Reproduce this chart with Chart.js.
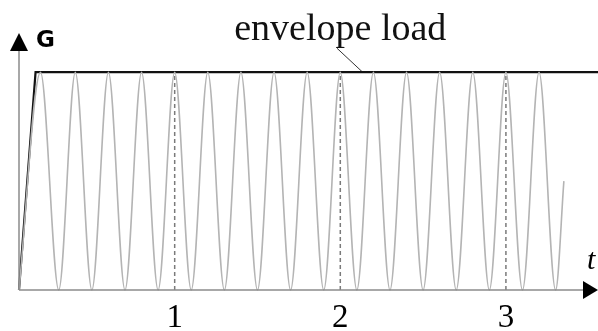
<!DOCTYPE html>
<html>
<head>
<meta charset="utf-8">
<script src="https://cdn.jsdelivr.net/npm/chart.js@4"></script>
<style>
    html, body { margin: 0; padding: 0; background: #fff; }
    #wrap { width: 598px; height: 331px; }
</style>
</head>
<body>
<div id="wrap"><canvas id="loadChart" width="598" height="331"></canvas></div>
<script>
// envelope: ramp from the origin, then flat
const envTimes = [0.06, 0.16, 3.56];
const envValues = [0, 1, 1];

// oscillating load G(t): starts at 0, peaks and troughs every 0.1
const gTimes = [0.06, 0.19, 0.3, 0.4, 0.5, 0.6, 0.7, 0.8, 0.9, 1.0, 1.1, 1.2,
    1.3, 1.4, 1.5, 1.6, 1.7, 1.8, 1.9, 2.0, 2.1, 2.2, 2.3, 2.4, 2.5, 2.6,
    2.7, 2.8, 2.9, 3.0, 3.1, 3.2, 3.3, 3.35];
const gValues = [0, 1, 0, 1, 0, 1, 0, 1, 0, 1, 0, 1,
    0, 1, 0, 1, 0, 1, 0, 1, 0, 1, 0, 1, 0, 1,
    0, 1, 0, 1, 0, 1, 0, 0.5];

// marked instants on the time axis
const tickValues = [1, 2, 3];
const tickLabels = ["1", "2", "3"];

// label and its leader line onto the envelope
const calloutText = "envelope load";
const calloutTimes = [1.98, 2.135];
const calloutValues = [1.11, 1.0];

const toPoints = (xs, ys) => xs.map((x, i) => ({ x: x, y: ys[i] }));

const dashSets = tickValues.map(t => ({
    data: [{ x: t, y: 0 }, { x: t, y: 1 }],
    borderColor: "#7a7a7a",
    borderWidth: 1.5,
    borderDash: [4, 3],
    pointRadius: 0,
    clip: false
}));

// axes with arrowheads, axis names and tick labels
const axesPlugin = {
    id: "axesPlugin",
    afterDatasetsDraw(chart) {
        const { ctx, scales } = chart;
        const xs = scales.x, ys = scales.y;
        const x0 = xs.getPixelForValue(xs.min);
        const y0 = ys.getPixelForValue(0);
        const yTop = ys.getPixelForValue(ys.max);
        const xEnd = xs.getPixelForValue(xs.max);

        ctx.save();
        ctx.strokeStyle = "#8c8c8c";
        ctx.lineWidth = 1.5;
        ctx.beginPath();
        ctx.moveTo(x0, y0);
        ctx.lineTo(x0, yTop + 12);
        ctx.moveTo(x0, y0);
        ctx.lineTo(xEnd - 10, y0);
        ctx.stroke();

        ctx.fillStyle = "#000";
        ctx.beginPath();
        ctx.moveTo(x0, yTop);
        ctx.lineTo(x0 - 9, yTop + 18);
        ctx.lineTo(x0 + 9, yTop + 18);
        ctx.closePath();
        ctx.fill();

        ctx.beginPath();
        ctx.moveTo(xEnd, y0);
        ctx.lineTo(xEnd - 15, y0 - 9);
        ctx.lineTo(xEnd - 15, y0 + 9);
        ctx.closePath();
        ctx.fill();

        ctx.fillStyle = "#000";
        ctx.textBaseline = "alphabetic";
        ctx.textAlign = "left";
        ctx.font = "bold 23px 'DejaVu Sans'";
        ctx.fillText("G", x0 + 17, yTop + 14);

        ctx.font = "italic 30px 'Liberation Serif'";
        ctx.fillText("t", xEnd - 11, y0 - 21);

        ctx.textAlign = "center";
        ctx.font = "33px 'Liberation Serif'";
        tickValues.forEach((t, i) => {
            ctx.fillText(tickLabels[i], xs.getPixelForValue(t), y0 + 37);
        });

        ctx.font = "38px 'Liberation Serif'";
        ctx.fillStyle = "#111";
        ctx.fillText(calloutText, xs.getPixelForValue(2.0), ys.getPixelForValue(1.148));
        ctx.restore();
    }
};

new Chart(document.getElementById("loadChart"), {
    type: "line",
    data: {
        datasets: [
            {
                data: toPoints(gTimes, gValues),
                borderColor: "#b4b4b4",
                borderWidth: 1.6,
                cubicInterpolationMode: "monotone",
                pointRadius: 0,
                clip: false
            },
            ...dashSets,
            {
                data: toPoints(envTimes, envValues),
                borderColor: "#111",
                borderWidth: 2.2,
                pointRadius: 0,
                clip: false
            },
            {
                data: toPoints(calloutTimes, calloutValues),
                borderColor: "#333",
                borderWidth: 1,
                pointRadius: 0,
                clip: false
            }
        ]
    },
    options: {
        responsive: false,
        animation: false,
        layout: { padding: { left: 19, right: 0, top: 33, bottom: 41 } },
        plugins: { legend: { display: false }, tooltip: { enabled: false } },
        scales: {
            x: { type: "linear", min: 0.06, max: 3.556, display: false },
            y: { type: "linear", min: 0, max: 1.18, display: false }
        }
    },
    plugins: [axesPlugin]
});
</script>
</body>
</html>
